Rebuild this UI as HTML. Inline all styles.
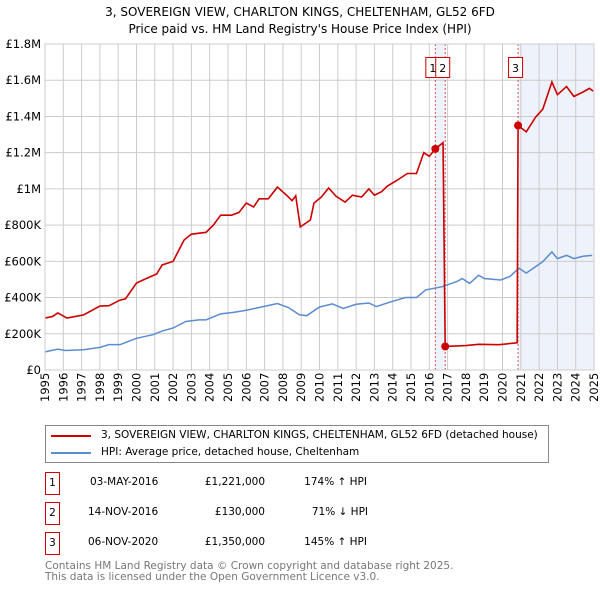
<!DOCTYPE html>
<html><head><meta charset="utf-8"><style>
body{margin:0;background:#fff;font-family:"DejaVu Sans","Liberation Sans",sans-serif;}
#wrap{position:relative;width:600px;height:590px;overflow:hidden;}
.t{position:absolute;font-size:10.5px;color:#000;white-space:nowrap}
.box{position:absolute;border:1px solid #c00;width:13px;height:21px;text-align:center;line-height:21px;font-size:10.5px}
</style></head><body><div id="wrap">
<svg id="chart" width="600" height="420" style="position:absolute;left:0;top:0"></svg>
<div style="position:absolute;left:45px;top:425px;width:502px;height:36px;border:1px solid #888;">
 <div style="position:absolute;left:5px;top:3px;height:14px;">
  <div style="position:absolute;left:0;top:6px;width:40px;height:2px;background:#c00"></div>
  <span class="t" style="left:50px;top:0px;">3, SOVEREIGN VIEW, CHARLTON KINGS, CHELTENHAM, GL52 6FD (detached house)</span></div>
 <div style="position:absolute;left:5px;top:20px;height:14px;">
  <div style="position:absolute;left:0;top:6px;width:40px;height:2px;background:#5b8bd0"></div>
  <span class="t" style="left:50px;top:0px;">HPI: Average price, detached house, Cheltenham</span></div>
</div>
<div>
 <div class="box" style="left:45px;top:472px">1</div>
 <span class="t" style="left:90px;top:476px">03-MAY-2016</span>
 <span class="t" style="left:195px;top:476px;width:70px;text-align:right">£1,221,000</span>
 <span class="t" style="left:290px;top:476px;width:77px;text-align:right">174% ↑ HPI</span>
 <div class="box" style="left:45px;top:502px">2</div>
 <span class="t" style="left:88px;top:506px">14-NOV-2016</span>
 <span class="t" style="left:195px;top:506px;width:70px;text-align:right">£130,000</span>
 <span class="t" style="left:290px;top:506px;width:78px;text-align:right">71% ↓ HPI</span>
 <div class="box" style="left:45px;top:532px">3</div>
 <span class="t" style="left:88px;top:536px">06-NOV-2020</span>
 <span class="t" style="left:195px;top:536px;width:70px;text-align:right">£1,350,000</span>
 <span class="t" style="left:290px;top:536px;width:77px;text-align:right">145% ↑ HPI</span>
</div>
<div class="t" style="left:45px;top:561px;color:#777;font-size:10.5px;line-height:11px">Contains HM Land Registry data © Crown copyright and database right 2025.<br>This data is licensed under the Open Government Licence v3.0.</div>
</div>
<script>
const yTicks=[0,200000,400000,600000,800000,1000000,1200000,1400000,1600000,1800000];
const yTickLabels=["£0","£200K","£400K","£600K","£800K","£1M","£1.2M","£1.4M","£1.6M","£1.8M"];
const xYears=[1995,1996,1997,1998,1999,2000,2001,2002,2003,2004,2005,2006,2007,2008,2009,2010,2011,2012,2013,2014,2015,2016,2017,2018,2019,2020,2021,2022,2023,2024,2025];
const saleDates=[2016.33,2016.87,2020.85];
const salePrices=[1221000,130000,1350000];
const saleLabels=["1","2","3"];
const propT=[1995.0,1995.4,1995.7,1996.2,1997.1,1998.0,1998.5,1999.1,1999.4,2000.0,2000.6,2001.1,2001.4,2002.0,2002.6,2003.0,2003.8,2004.2,2004.6,2005.2,2005.6,2006.0,2006.4,2006.7,2007.2,2007.7,2008.2,2008.5,2008.7,2008.95,2009.5,2009.7,2010.1,2010.5,2010.9,2011.4,2011.8,2012.3,2012.7,2013.0,2013.4,2013.7,2014.2,2014.8,2015.3,2015.7,2016.0,2016.33,2016.75,2016.85,2016.87,2018.0,2018.7,2019.8,2020.6,2020.8,2020.85,2021.3,2021.8,2022.2,2022.7,2023.0,2023.5,2023.9,2024.4,2024.75,2024.95];
const propV=[287000,295000,315000,287000,304000,353000,355000,386000,393000,480000,508000,530000,580000,600000,718000,750000,760000,800000,855000,855000,870000,922000,900000,945000,945000,1010000,965000,935000,962000,790000,828000,922000,955000,1005000,960000,927000,965000,955000,1000000,965000,985000,1015000,1045000,1085000,1085000,1200000,1180000,1221000,1255000,300000,130000,135000,142000,140000,148000,150000,1350000,1315000,1395000,1440000,1590000,1520000,1565000,1510000,1535000,1555000,1540000];
const hpiT=[1995.0,1995.7,1996.1,1997.1,1998.0,1998.5,1999.1,2000.0,2000.9,2001.4,2002.0,2002.7,2003.4,2003.8,2004.6,2005.3,2006.0,2006.7,2007.7,2008.3,2008.9,2009.3,2010.0,2010.7,2011.3,2012.0,2012.7,2013.1,2013.8,2014.7,2015.3,2015.8,2016.7,2017.5,2017.8,2018.2,2018.7,2019.0,2019.9,2020.4,2020.9,2021.3,2021.8,2022.2,2022.7,2023.0,2023.5,2023.9,2024.4,2024.9];
const hpiV=[100000,115000,108000,112000,125000,140000,140000,175000,195000,215000,232000,268000,277000,277000,310000,318000,330000,345000,367000,345000,305000,300000,348000,365000,340000,363000,370000,350000,373000,400000,400000,442000,460000,488000,505000,478000,523000,505000,497000,516000,562000,535000,570000,598000,652000,615000,633000,615000,628000,633000];
const NS="http://www.w3.org/2000/svg";
const svg=document.getElementById('chart');
const L=45,R=594,T=44,B=370;
const FF='DejaVu Sans, Liberation Sans, sans-serif';
const x=t=>L+(t-1995)/30*(R-L);
const y=v=>B-v/1800000*(B-T);
function mk(tag,a,parent){const e=document.createElementNS(NS,tag);for(const k in a)e.setAttribute(k,a[k]);(parent||svg).appendChild(e);return e;}
let e=mk('text',{x:300,y:16,'text-anchor':'middle','font-size':12,'font-family':FF});e.textContent="3, SOVEREIGN VIEW, CHARLTON KINGS, CHELTENHAM, GL52 6FD";


e=mk('text',{x:300,y:33,'text-anchor':'middle','font-size':12,'font-family':FF});e.textContent="Price paid vs. HM Land Registry's House Price Index (HPI)";


e=mk('rect',{x:x(saleDates[0]),y:T,width:x(saleDates[1])-x(saleDates[0]),height:B-T,fill:'#eef2fb'});


e=mk('rect',{x:x(saleDates[2]),y:T,width:R-x(saleDates[2]),height:B-T,fill:'#eef2fb'});


yTicks.forEach((v,i)=>{
 e=mk('line',{x1:L,x2:R,y1:y(v),y2:y(v),stroke:'#ccc'});
 
 
 e=mk('text',{x:L-4,y:y(v)+4,'text-anchor':'end','font-size':11.5,'font-family':FF});e.textContent=yTickLabels[i];
 
 
});
xYears.forEach(yr=>{
 e=mk('line',{x1:x(yr),x2:x(yr),y1:T,y2:B,stroke:'#ccc'});
 
 
 e=mk('text',{transform:`translate(${x(yr)+4},${B+32}) rotate(-90)`,'font-size':11.5,'font-family':FF});e.textContent=yr;
 
 
});
saleDates.forEach((d,i)=>{
 e=mk('line',{x1:x(d),x2:x(d),y1:T,y2:B,stroke:'#e05050','stroke-dasharray':'2,2'});
 
 
});
e=mk('polyline',{points:hpiT.map((t,i)=>x(t)+','+y(hpiV[i])).join(' '),fill:'none',stroke:'#5b8bd0','stroke-width':1.5});


e=mk('polyline',{points:propT.map((t,i)=>x(t)+','+y(propV[i])).join(' '),fill:'none',stroke:'#c00','stroke-width':1.6});


saleDates.forEach((d,i)=>{
 e=mk('circle',{cx:x(d),cy:y(salePrices[i]),r:4,fill:'#c00'});
 
 
});
saleLabels.forEach((s,i)=>{
 const bx=x(saleDates[i])-10;
 const g=mk('g',{});
 
 
 mk('rect',{x:bx+0.5,y:57.5,width:14,height:20,fill:'#fff',stroke:'#c00'},g);
 const tx=mk('text',{x:bx+7.5,y:72,'text-anchor':'middle','font-size':11,'font-family':FF},g);tx.textContent=s;
});
e=mk('rect',{x:L,y:T,width:R-L,height:B-T,fill:'none',stroke:'#ccc'});


</script>
</body></html>
